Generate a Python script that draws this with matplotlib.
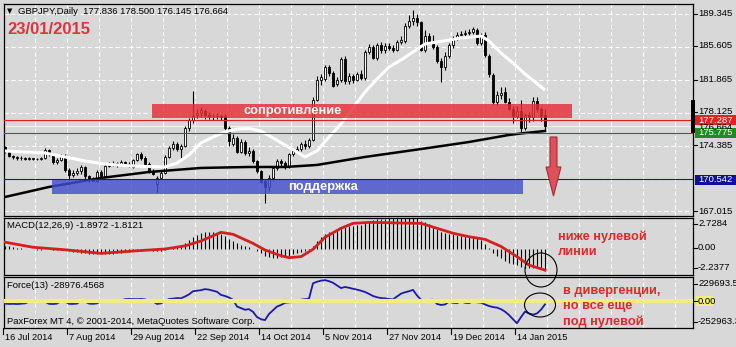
import numpy as np
import matplotlib.pyplot as plt
from matplotlib.patches import Rectangle, Polygon, Ellipse
from matplotlib.lines import Line2D

plt.rcParams['font.family'] = ['Liberation Sans', 'DejaVu Sans']
plt.rcParams['lines.scale_dashes'] = False

# GBPJPY daily, 16 Jul 2014 .. 23 Jan 2015 (one entry per bar)
opens = [174.2, 173.8, 173.2, 173.1, 172.95, 173.0, 172.9, 172.95, 172.85, 172.9,
         173.0, 173.9, 173.4, 172.5, 172.8, 173.2, 171.6, 171.0, 171.3, 171.5,
         172.0, 170.9, 170.5, 170.4, 171.4, 170.9, 172.1, 172.3, 172.4, 172.2,
         172.5, 172.3, 172.0, 172.7, 173.4, 173.0, 172.3, 171.5, 170.0, 170.7,
         171.3, 173.1, 174.1, 174.6, 174.0, 174.4, 176.4, 177.3, 177.9, 178.1,
         178.3, 177.9, 177.8, 177.7, 177.8, 177.8, 176.4, 174.6, 175.3, 173.7,
         174.8, 173.6, 173.8, 172.6, 171.5, 170.4, 169.7, 170.7, 171.8, 172.6,
         172.4, 172.1, 173.4, 173.8, 174.0, 174.6, 174.3, 175.0, 179.6, 181.8,
         182.0, 183.3, 182.6, 181.4, 181.8, 184.2, 181.7, 182.3, 181.9, 182.5,
         182.1, 185.0, 185.6, 184.4, 185.8, 185.2, 185.7, 185.5, 185.3, 186.2,
         186.3, 188.0, 188.6, 188.9, 188.4, 185.3, 186.8, 186.2, 185.6, 184.0,
         183.3, 184.6, 185.8, 186.6, 187.0, 187.1, 187.2, 187.3, 187.5, 186.0,
         187.0, 184.6, 182.4, 179.4, 180.1, 180.5, 179.4, 178.6, 177.8, 178.3,
         176.4, 177.9, 177.6, 179.5, 178.5, 177.836]
highs = [174.4, 173.9, 173.3, 173.2, 173.2, 173.1, 173.1, 173.0, 173.0, 173.1,
         174.1, 174.0, 173.5, 173.0, 173.4, 173.4, 171.8, 171.6, 171.8, 172.2,
         172.1, 171.1, 170.8, 171.6, 171.6, 172.3, 172.5, 172.6, 172.5, 172.7,
         172.6, 172.5, 172.9, 173.6, 173.7, 173.2, 172.5, 171.7, 170.9, 171.5,
         173.3, 174.3, 174.9, 174.8, 174.6, 176.6, 177.5, 180.6, 178.6, 178.8,
         178.6, 178.2, 178.0, 178.1, 178.0, 178.0, 176.6, 175.7, 175.5, 175.1,
         175.0, 174.2, 174.0, 172.8, 171.6, 170.6, 171.0, 172.0, 172.9, 172.9,
         172.6, 173.6, 174.0, 174.3, 174.8, 175.0, 175.2, 179.9, 182.3, 182.5,
         183.5, 183.6, 182.9, 182.2, 184.5, 184.6, 182.6, 182.5, 182.8, 183.0,
         185.3, 185.9, 185.8, 186.1, 186.2, 186.0, 186.1, 185.8, 186.4, 186.8,
         188.3, 189.2, 189.8, 189.3, 188.6, 187.5, 187.2, 187.0, 185.8, 184.3,
         185.0, 186.1, 186.9, 187.3, 187.4, 187.5, 187.6, 187.9, 187.8, 187.2,
         187.3, 184.8, 182.6, 180.6, 181.0, 181.1, 179.8, 178.9, 178.9, 179.6,
         178.1, 178.2, 179.9, 179.9, 178.8, 178.5]
lows = [173.6, 173.1, 172.9, 172.8, 172.8, 172.7, 172.8, 172.7, 172.7, 172.8,
        172.9, 173.2, 172.3, 172.3, 172.6, 171.4, 170.5, 170.8, 171.0, 171.2,
        170.6, 170.2, 170.2, 170.3, 170.7, 170.8, 172.0, 172.1, 172.0, 172.1,
        172.1, 172.0, 171.9, 172.6, 172.8, 172.1, 171.3, 171.0, 169.1, 170.6,
        171.2, 173.0, 173.9, 173.8, 173.0, 174.2, 176.1, 177.0, 177.5, 177.6,
        177.4, 177.4, 177.3, 177.4, 177.3, 176.2, 174.3, 174.4, 173.5, 173.5,
        173.3, 173.2, 172.4, 171.3, 170.1, 167.9, 169.2, 170.5, 171.6, 172.1,
        171.7, 171.9, 173.2, 173.5, 173.8, 174.0, 174.1, 174.9, 179.5, 181.3,
        181.7, 182.3, 181.0, 181.2, 181.6, 181.4, 181.4, 181.5, 181.7, 181.8,
        181.9, 184.8, 184.2, 184.1, 184.9, 184.9, 185.2, 185.0, 185.1, 185.9,
        186.1, 187.8, 188.1, 188.0, 185.1, 185.0, 185.9, 185.4, 183.8, 181.6,
        183.0, 184.4, 185.5, 186.4, 186.8, 186.8, 187.0, 187.1, 185.8, 185.8,
        184.5, 182.2, 179.1, 179.0, 179.7, 179.2, 178.4, 177.0, 177.5, 175.9,
        176.2, 177.1, 177.2, 178.2, 177.2, 176.145]
closes = [173.8, 173.2, 173.1, 172.95, 173.0, 172.9, 172.95, 172.85, 172.9, 173.0,
          173.9, 173.4, 172.5, 172.8, 173.2, 171.6, 171.0, 171.3, 171.5, 172.0,
          170.9, 170.5, 170.4, 171.4, 170.9, 172.1, 172.3, 172.4, 172.2, 172.5,
          172.3, 172.2, 172.7, 173.4, 173.0, 172.3, 171.5, 171.2, 170.7, 171.3,
          173.1, 174.1, 174.6, 174.0, 174.4, 176.4, 177.3, 177.8, 178.1, 178.4,
          177.9, 177.8, 177.7, 177.8, 177.6, 176.4, 174.9, 175.3, 173.7, 174.8,
          173.6, 173.8, 172.6, 171.5, 170.3, 169.7, 170.7, 171.8, 172.6, 172.4,
          172.1, 173.4, 173.8, 174.0, 174.6, 174.3, 175.0, 179.6, 181.9, 182.2,
          183.3, 182.6, 181.2, 181.8, 184.2, 181.7, 182.3, 181.9, 182.5, 182.1,
          185.0, 185.6, 184.4, 185.8, 185.2, 185.7, 185.5, 185.3, 186.2, 186.4,
          188.0, 188.6, 188.9, 188.4, 185.3, 186.8, 186.2, 185.6, 184.0, 183.3,
          184.6, 185.8, 186.6, 187.0, 187.1, 187.2, 187.3, 187.6, 186.0, 186.8,
          184.7, 182.5, 179.4, 180.1, 180.4, 179.4, 178.6, 177.7, 178.3, 176.4,
          177.9, 177.6, 179.5, 178.5, 177.8, 176.664]

# moving averages, read at sample bars
ma_fast_idx = [0, 5, 10, 15, 20, 25, 30, 35, 40, 43, 46, 49, 52, 55, 58, 61, 64, 67, 70, 73,
               75, 78, 81, 84, 87, 90, 93, 96, 99, 102, 105, 108, 111, 114, 117, 119, 121,
               124, 127, 130, 135]
ma_fast = [173.78, 173.66, 173.55, 173.10, 172.64, 172.30, 172.13, 172.02, 171.96, 172.41,
           173.32, 174.69, 175.37, 175.94, 176.28, 176.33, 176.05, 175.25, 174.46, 173.66,
           173.10, 173.78, 175.37, 176.85, 178.66, 180.48, 181.96, 183.32, 184.12, 185.03,
           185.94, 186.16, 186.39, 186.62, 186.73, 186.85, 186.28, 184.91, 183.78, 182.53,
           180.71]
ma_slow_idx = [0, 11, 24, 36, 49, 61, 70, 78, 90, 104, 116, 126, 130, 135]
ma_slow = [168.55, 169.69, 170.71, 171.39, 171.85, 171.96, 171.96, 172.19, 173.10, 174.00,
           174.80, 175.60, 175.82, 176.05]

# MACD(12,26,9): main (histogram) per bar, signal read at sample bars
macd_main = [0.30, 0.25, 0.20, 0.15, 0.10, 0.05,
             0.02, 0.0, -0.02, -0.03, 0.0, 0.02, -0.02, -0.05, -0.05, -0.10, -0.15,
             -0.20, -0.25, -0.30, -0.33, -0.38, -0.42, -0.45, -0.45, -0.42, -0.40, -0.37,
             -0.33, -0.30, -0.26, -0.22, -0.18,
             -0.12, -0.08, -0.06, -0.08, -0.12, -0.18, -0.15, -0.05,
             0.05, 0.20, 0.30, 0.38, 0.55, 0.80, 1.05, 1.25, 1.40, 1.52, 1.55, 1.50, 1.42,
             1.30, 1.15, 0.92, 0.72, 0.52, 0.40, 0.28, 0.18,
             0.02, -0.15, -0.35, -0.58, -0.70, -0.75, -0.72, -0.68, -0.62, -0.55, -0.45,
             -0.35, -0.25, -0.15, -0.08,
             0.30, 0.75, 1.05, 1.35, 1.55, 1.62, 1.72, 1.95, 1.95, 2.00, 2.05, 2.10, 2.15,
             2.35, 2.50, 2.55, 2.62, 2.65, 2.68, 2.70, 2.70, 2.72, 2.72, 2.73, 2.73, 2.72, 2.70,
             2.50, 2.35, 2.20, 2.00, 1.75, 1.55, 1.40, 1.35, 1.32, 1.25, 1.20, 1.15, 1.10,
             1.05, 0.95, 0.80, 0.50, 0.10,
             -0.30, -0.60, -0.80, -1.00, -1.15, -1.30, -1.38, -1.55, -1.60, -1.65, -1.60,
             -1.62, -1.75, -1.8972]
signal_idx = [0, 7, 15, 24, 32, 40, 45, 49, 54, 57, 62, 65, 69, 71, 74, 77, 80, 84, 87, 91,
              104, 108, 112, 116, 120, 124, 128, 131, 135]
signal = [0.62, 0.18, -0.04, -0.35, -0.15, 0.03, 0.30, 0.73, 1.48, 1.31, 0.52, -0.06, -0.56,
          -0.73, -0.64, 0.0, 1.05, 1.83, 2.26, 2.35, 2.26, 1.83, 1.40, 1.10, 0.87, 0.25,
          -0.64, -1.37, -1.8121]

# Force(13), thousands, per bar
force_k = [-22, -25, -24, -26, -23, -20, -5, 2, 4, 1, -3, -24, -26, -22, 3, -2,
           -24, -25, -22, 4, -3, -22, -24, -20, 2, 5, 3, -2, 4, 6,
           20, 22, 21, 20, 22, 18, 5, -2, -25, -20, 2, 22, 25, 30, 28,
           45, 65, 95, 100, 105, 115, 110, 100, 90, 60, 50, 35, 15,
           -50, -65, -80, -75, -100, -150, -170, -178, -120, -85, -50, -35, -15, -10, -8,
           -5, 15, 20, 25,
           170, 185, 195, 200, 190, 175, 150, 125, 135, 128, 118, 110, 100, 88, 70, 50,
           38, 30, 28, 22, 18,
           45, 72, 85, 95, 108, 55, 15, 10, 12, 15, -25, -35, -30, -5,
           -15, -18, 0, -15, -18, 0, -10, -13, -30, -45, -55, -60, -75, -98, -130, -170,
           -208, -150, -98, -115, -127, -115, -80, -28.976]

date_labels = ['16 Jul 2014', '7 Aug 2014', '29 Aug 2014', '22 Sep 2014', '14 Oct 2014',
               '5 Nov 2014', '27 Nov 2014', '19 Dec 2014', '14 Jan 2015']
price_grid = [189.345, 185.605, 181.865, 178.125, 174.385, 170.645, 167.015]
price_labels = ['189.345', '185.605', '181.865', '178.125', '174.385', '167.015']

resist = (177.53, 179.12)
support = (168.89, 170.48)
red_level, green_level, blue_level, bid = 177.287, 175.775, 170.542, 176.664

W, H = 736, 347
BG = '#d8d8d8'
fig = plt.figure(figsize=(W / 100, H / 100), dpi=100, facecolor=BG)


def fx(px):
    return px / W


def fy(py):
    return 1 - py / H


def panel(top, bottom):
    ax = fig.add_axes([fx(4), fy(bottom), 689 / W, (bottom - top) / H])
    ax.set_facecolor(BG)
    ax.set_xlim(-0.25, 172.0)
    ax.set_xticks([])
    ax.set_yticks([])
    for s in ax.spines.values():
        s.set_color('black')
        s.set_linewidth(0.9)
    for g in np.arange(0, 176, 8) - 0.5:
        ax.axvline(g, color='white', lw=0.8, ls=(0, (3, 2)), zorder=1)
    return ax


opens, highs, lows, closes = map(np.array, (opens, highs, lows, closes))
idx = np.arange(len(closes))

# ---- main price panel
ax = panel(4, 216)
ax.set_ylim(166.390, 190.481)
for p in price_grid:
    ax.axhline(p, color='white', lw=0.8, ls=(0, (3, 2)), zorder=1)

up = closes >= opens
ax.vlines(idx, lows, highs, color='black', lw=0.8, zorder=3)
bot = np.minimum(opens, closes)
hgt = np.maximum(np.abs(closes - opens), 0.05)
ax.bar(idx[up], hgt[up], 0.72, bottom=bot[up], facecolor='white', edgecolor='black',
       lw=0.6, zorder=4)
ax.bar(idx[~up], hgt[~up], 0.72, bottom=bot[~up], facecolor='black', edgecolor='black',
       lw=0.6, zorder=4)

ax.plot(ma_fast_idx, ma_fast, color='white', lw=2.2, zorder=5, solid_capstyle='butt')
ax.plot(ma_slow_idx, ma_slow, color='black', lw=1.8, zorder=5)

ax.add_patch(Rectangle((36.75, resist[0]), 105, resist[1] - resist[0], facecolor='#e82c38',
                       alpha=0.82, edgecolor='none', zorder=6))
ax.add_patch(Rectangle((11.75, support[0]), 117.75, support[1] - support[0],
                       facecolor='#444fcb', alpha=0.82, edgecolor='none', zorder=6))
ax.text(72.0, (resist[0] + resist[1]) / 2, 'сопротивление', color='white', fontsize=9.3,
        fontweight='bold', ha='center', va='center', zorder=7)
ax.text(79.5, (support[0] + support[1]) / 2, 'поддержка', color='white', fontsize=9.3,
        fontweight='bold', ha='center', va='center', zorder=7)

ax.axhline(red_level, color='#e02020', lw=0.8, zorder=7)
ax.axhline(bid, color='#f2f2f2', lw=0.8, zorder=2)
ax.axhline(green_level, color='#1e7a1e', lw=0.8, zorder=7)
ax.axhline(blue_level, color='#1414a0', lw=0.8, zorder=7)

ax.add_patch(Polygon([(136.25, 175.37), (138.0, 175.37), (138.0, 171.96), (139.0, 171.96),
                      (137.12, 168.66), (135.25, 171.96), (136.25, 171.96)],
                     closed=True, facecolor='#e0505a', edgecolor='#a03038', lw=0.8, zorder=8))

# ---- MACD panel
axm = panel(218, 275)
axm.set_ylim(-2.2377, 2.7284)
axm.vlines(idx, 0, macd_main, color='black', lw=0.8, zorder=3)
axm.plot(signal_idx, signal, color='#d42020', lw=2.0, zorder=4)

# ---- Force panel
axf = panel(277, 328)
axf.set_ylim(-252963.3, 229693.5)
axf.plot(idx, np.array(force_k) * 1000, color='#1a1aa8', lw=1.3, zorder=3)
axf.axhline(0, color='#f2ee7a', lw=3.0, zorder=4)

# ---- texts on panels
small = 6.8
fig.text(fx(7), fy(11), '▼', fontsize=5, va='center', family=['DejaVu Sans'])
fig.text(fx(18), fy(11), 'GBPJPY,Daily  177.836 178.500 176.145 176.664', fontsize=small,
         va='center')
fig.text(fx(7), fy(30), '23/01/2015', fontsize=12, fontweight='bold', color='#d9363e',
         va='center')
fig.text(fx(7), fy(226), 'MACD(12,26,9) -1.8972 -1.8121', fontsize=small, va='center')
fig.text(fx(7), fy(286), 'Force(13) -28976.4568', fontsize=small, va='center')
fig.text(fx(7), fy(321), 'PaxForex MT 4, © 2001-2014, MetaQuotes Software Corp.',
         fontsize=small, va='center')

red_txt = '#e02a2a'
for txt, y in [('ниже нулевой', 237), ('линии', 252), ('в дивергенции,', 291),
               ('но все еще', 306), ('под нулевой', 322)]:
    fig.text(fx(558 if y < 260 else 563), fy(y), txt, fontsize=9.2, fontweight='bold',
             color=red_txt, va='center')

fig.add_artist(Ellipse((fx(541), fy(270)), 32 / W, 34 / H, transform=fig.transFigure,
                       fill=False, edgecolor='black', lw=0.8))
fig.add_artist(Ellipse((fx(540), fy(305)), 31 / W, 24 / H, transform=fig.transFigure,
                       fill=False, edgecolor='black', lw=0.8))

# ---- right scale


def tick(y):
    fig.add_artist(Line2D([fx(693), fx(697)], [fy(y), fy(y)], transform=fig.transFigure,
                          color='black', lw=0.8))


def ylab(y, txt, color='black'):
    fig.text(fx(698), fy(y), txt, fontsize=small, va='center', color=color)


for lab, y in zip(price_labels, [14, 46, 80, 112, 145, 211]):
    tick(y)
    ylab(y, lab)
ylab(127, '176.664')
for (y0, y1, c, txt) in [(115, 125, '#e52222', '177.287'), (127.5, 138, '#1e8c1e', '175.775'),
                         (175, 185, '#1010a0', '170.542')]:
    fig.add_artist(Rectangle((fx(695), fy(y1)), 41 / W, (y1 - y0) / H,
                             transform=fig.transFigure, facecolor=c, edgecolor='none'))
    ylab((y0 + y1) / 2, txt, 'white')
fig.add_artist(Rectangle((fx(691), fy(133)), 4 / W, 33 / H, transform=fig.transFigure,
                         facecolor='black', edgecolor='none'))

for lab, y in [('2.7284', 224), ('0.00', 248), ('-2.2377', 268), ('229693.5', 284),
               ('-252963.3', 322)]:
    tick(y)
    ylab(y, lab)
fig.add_artist(Rectangle((fx(696), fy(306)), 17 / W, 10 / H, transform=fig.transFigure,
                         facecolor='#f2ee7a', edgecolor='none'))
tick(301)
ylab(301, '0.00')

# ---- date axis
for k, lab in enumerate(date_labels):
    x = 3 + 64 * k
    fig.add_artist(Line2D([fx(x), fx(x)], [fy(328), fy(334)], transform=fig.transFigure,
                          color='black', lw=0.8))
    fig.text(fx(x + 2), fy(338), lab, fontsize=6.6, va='center')

fig.savefig('out.png', dpi=100, facecolor=BG)
